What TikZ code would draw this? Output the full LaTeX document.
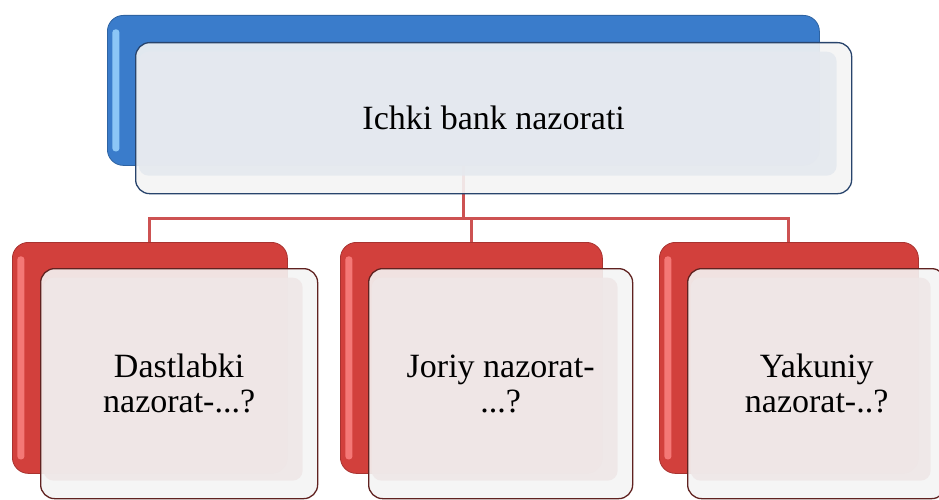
\documentclass[tikz,border=0pt]{standalone}
\usepackage{fontspec}
\setmainfont{Liberation Serif}
\usepackage{xcolor}
\usetikzlibrary{positioning,backgrounds}

\definecolor{topblue}{RGB}{58,124,203}
\definecolor{topglint}{RGB}{140,198,246}
\definecolor{topedge}{RGB}{40,68,108}
\definecolor{topface}{RGB}{229,233,239}
\definecolor{subred}{RGB}{210,64,60}
\definecolor{subglint}{RGB}{244,120,118}
\definecolor{subedge}{RGB}{96,34,32}
\definecolor{subface}{RGB}{239,231,231}
\definecolor{rimgray}{RGB}{244,244,244}
\definecolor{linkred}{RGB}{205,82,82}

\tikzset{
  backbox/.style={rectangle, rounded corners=16pt, anchor=north west, inner sep=0pt,
    fill=#1, draw=#1!80!black, line width=0.8pt},
  glint/.style={path picture={
    \fill[#1, rounded corners=3pt]
      ([shift={(5pt,-14pt)}]path picture bounding box.north west) rectangle
      ([shift={(12pt,14pt)}]path picture bounding box.south west);}},
  frontbox/.style={rectangle, rounded corners=14pt, anchor=north west, inner sep=0pt,
    draw=#1, line width=1.3pt, fill=rimgray, fill opacity=0.9, text opacity=1,
    align=center, font=\fontsize{34}{35}\selectfont},
  face/.style={path picture={
    \fill[#1, rounded corners=10pt]
      ([shift={(3pt,-9pt)}]path picture bounding box.north west) rectangle
      ([shift={(-15pt,18pt)}]path picture bounding box.south east);}},
  link/.style={draw=linkred, line width=3pt},
}

\begin{document}
\begin{tikzpicture}[x=1pt,y=1pt]
  \clip (0,0) rectangle (939,499);
  \useasboundingbox (0,0) rectangle (939,499);

  % upper level
  \node[backbox=topblue, glint=topglint, minimum width=712pt, minimum height=150pt]
    (topback) at (107,484) {};
  \node[frontbox=topedge, face=topface, minimum width=716pt, minimum height=151pt]
    (top) at (135,457) {Ichki bank nazorati};

  % lower level
  \node[backbox=subred, glint=subglint, minimum width=275pt, minimum height=231pt]
    (firstback) at (12,257) {};
  \node[frontbox=subedge, face=subface, minimum width=277pt, minimum height=230pt]
    (first) at (40,231) {Dastlabki\\nazorat-...?};

  \node[backbox=subred, glint=subglint, minimum width=262pt, minimum height=231pt]
    (currentback) at (340,257) {};
  \node[frontbox=subedge, face=subface, minimum width=264pt, minimum height=230pt]
    (current) at (368,231) {Joriy nazorat-\\...?};

  \node[backbox=subred, glint=subglint, minimum width=259pt, minimum height=231pt]
    (finalback) at (659,257) {};
  \node[frontbox=subedge, face=subface, minimum width=258pt, minimum height=230pt]
    (final) at (687,231) {Yakuniy\\nazorat-..?};

  % connectors
  \begin{scope}[on background layer]
    \draw[link] (topback.south) -- ++(0,-53) -| (firstback.north);
    \draw[link] (topback.south) -- ++(0,-53) -| (currentback.north);
    \draw[link] (topback.south) -- ++(0,-53) -| (finalback.north);
  \end{scope}
\end{tikzpicture}
\end{document}
